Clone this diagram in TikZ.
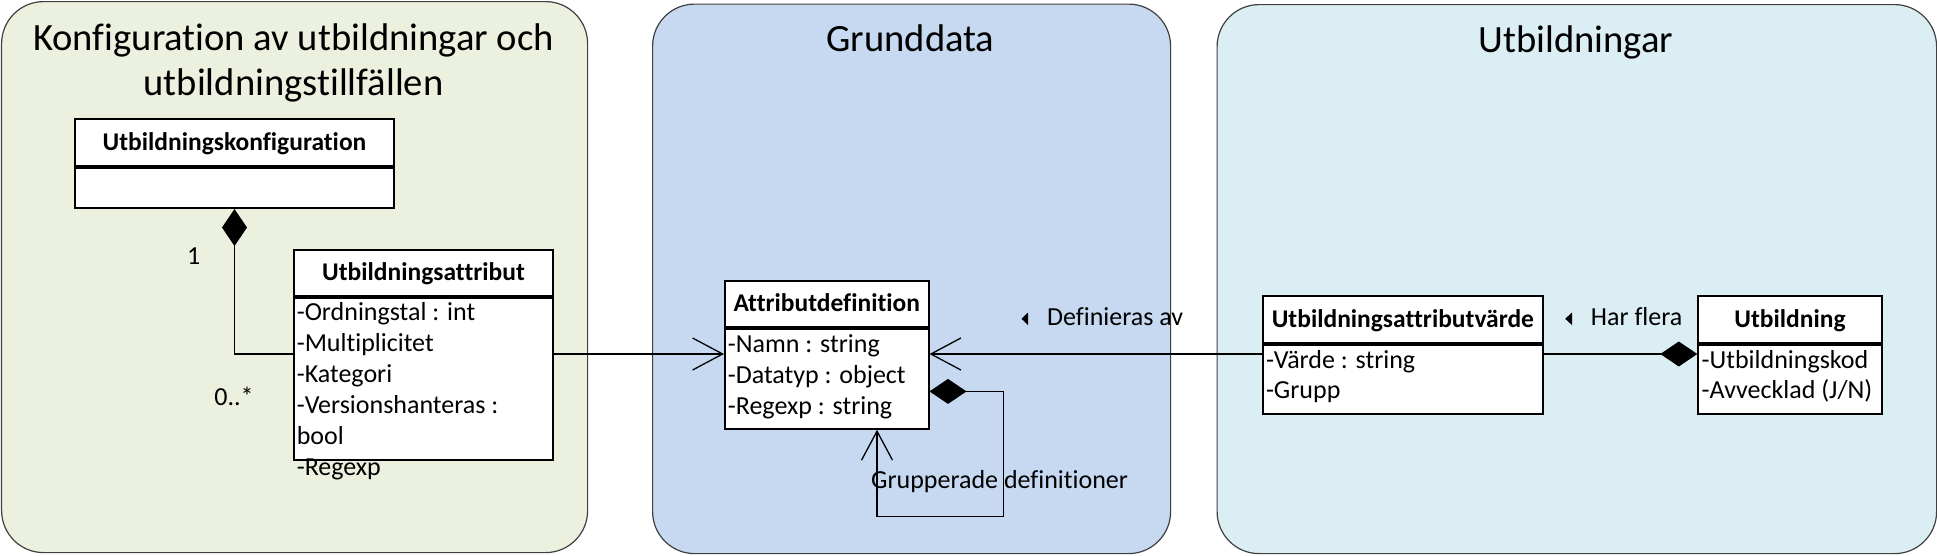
\documentclass[tikz,border=0pt]{standalone}
\usepackage{fontspec}
\setmainfont{Carlito}[Ligatures=CommonOff]
\usetikzlibrary{arrows.meta,calc}
\definecolor{pgreen}{HTML}{EBF1DE}
\definecolor{pblue}{HTML}{C6D9F1}
\definecolor{paqua}{HTML}{DBEEF4}
\definecolor{pborder}{HTML}{404040}
\tikzset{
  panel/.style={draw=pborder, line width=1.2pt, rounded corners=42pt, anchor=north west, inner sep=0pt},
  ptitle/.style={font=\fontsize{38.6}{46}\selectfont, anchor=base, inner sep=0pt},
  hdr/.style={draw=black, line width=2pt, fill=white, anchor=north west, inner sep=0pt,
    font=\fontsize{25.5}{30}\selectfont\bfseries, text height=16pt, text depth=0pt},
  body/.style={draw=black, line width=2pt, fill=white, anchor=north, inner sep=0pt},
  attr/.style={font=\fontsize{26}{31}\selectfont, anchor=base west, inner sep=0pt},
  lbl/.style={font=\fontsize{26}{31}\selectfont, inner sep=0pt},
  conn/.style={draw=black, line width=1.3pt},
  comp/.tip={Diamond[length=37pt,width=25pt]},
  opentip/.tip={Straight Barb[length=30pt,width=32pt]},
}
\begin{document}
\begin{tikzpicture}[x=1pt,y=-1pt]
\useasboundingbox (0,0) rectangle (1937,555);
% panels
\node[panel, fill=pgreen, minimum width=586pt, minimum height=551pt] (pleft) at (1,1) {};
\node[panel, fill=pblue, minimum width=518pt, minimum height=549.5pt] (pmid) at (652,3.5) {};
\node[panel, fill=paqua, minimum width=719.5pt, minimum height=549pt] (pright) at (1216.5,4) {};
% titles
\node[ptitle] (t1a) at (293.6,50) {Konfiguration av utbildningar och};
\node[ptitle] (t1b) at (293.6,95) {utbildningstillfällen};
\node[ptitle] (t2) at (910.4,51.3) {Grunddata};
\node[ptitle] (t3) at (1576,52.4) {Utbildningar};
% Utbildningskonfiguration
\node[hdr, minimum width=319pt, minimum height=47pt] (konfH) at (74,118) {Utbildningskonfiguration};
\node[body, minimum width=319pt, minimum height=40pt] (konfB) at (konfH.south) {};
% Utbildningsattribut
\node[hdr, minimum width=259.8pt, minimum height=46.1pt] (uattrH) at (292.6,248.8) {Utbildningsattribut};
\node[body, minimum width=259.8pt, minimum height=161.7pt] (uattrB) at (uattrH.south) {};
\node[attr] (ua1) at (296.6,320.4) {-Ordningstal : int};
\node[attr] (ua2) at (296.6,351.4) {-Multiplicitet};
\node[attr] (ua3) at (296.6,382.4) {-Kategori};
\node[attr] (ua4) at (296.6,413.4) {-Versionshanteras :};
\node[attr] (ua5) at (296.6,444.4) {bool};
\node[attr] (ua6) at (296.6,475.4) {-Regexp};
% Attributdefinition
\node[hdr, minimum width=203.5pt, minimum height=46.1pt] (adefH) at (724,279.6) {Attributdefinition};
\node[body, minimum width=203.5pt, minimum height=100.1pt] (adefB) at (adefH.south) {};
\node[attr] (ad1) at (727.7,352.2) {-Namn : string};
\node[attr] (ad2) at (727.7,383.2) {-Datatyp : object};
\node[attr] (ad3) at (727.7,414.2) {-Regexp : string};
% Utbildningsattributvärde
\node[hdr, minimum width=279.7pt, minimum height=47.1pt] (uvH) at (1262,294.5) {Utbildningsattributvärde};
\node[body, minimum width=279.7pt, minimum height=69pt] (uvB) at (uvH.south) {};
\node[attr] (uv1) at (1265.8,368) {-Värde : string};
\node[attr] (uv2) at (1265.8,398) {-Grupp};
% Utbildning
\node[hdr, minimum width=183.3pt, minimum height=47.1pt] (utbH) at (1697.3,294.5) {Utbildning};
\node[body, minimum width=183.3pt, minimum height=69pt] (utbB) at (utbH.south) {};
\node[attr] (ut1) at (1701.5,368) {-Utbildningskod};
\node[attr] (ut2) at (1701.5,398) {-Avvecklad (J/N)};
% connectors
\draw[conn, {comp}-] (konfB.south) |- ([yshift=-57.1pt]uattrB.north west);
\draw[conn, -{opentip}] ([yshift=-57.1pt]uattrB.north east) -- ([yshift=-26.3pt]adefB.north west);
\draw[conn, -{opentip}] ([yshift=-10.4pt]uvB.north west) -- ([yshift=-26.3pt]adefB.north east);
\draw[conn, {comp}-{Straight Barb[length=29pt,width=31pt]}] ([yshift=-63.7pt]adefB.north east) -- ++(74.3,0) -- ++(0,124.9) -| ([xshift=50.25pt]adefB.south);
\draw[conn, -{comp}] ([yshift=-10.4pt]uvB.north east) -- ([yshift=-10.4pt]utbB.north west);
% labels
\node[lbl] (one) at (193.7,256.6) {1};
\node[lbl] (many) at (234,396.5) {0..*};
\node[lbl, anchor=base west] (grp) at (871,488) {Grupperade definitioner};
\node[lbl, anchor=base west] (defav) at (1047,325) {Definieras av};
\fill ($(defav.base west)+(-25.5,-6.2)$) -- ++(6.5,-6.3) -- ++(0,12.6) -- cycle;
\node[lbl, anchor=base west] (harfl) at (1590.7,325) {Har flera};
\fill ($(harfl.base west)+(-25.5,-6.2)$) -- ++(6.8,-6.3) -- ++(0,12.6) -- cycle;
\end{tikzpicture}
\end{document}
